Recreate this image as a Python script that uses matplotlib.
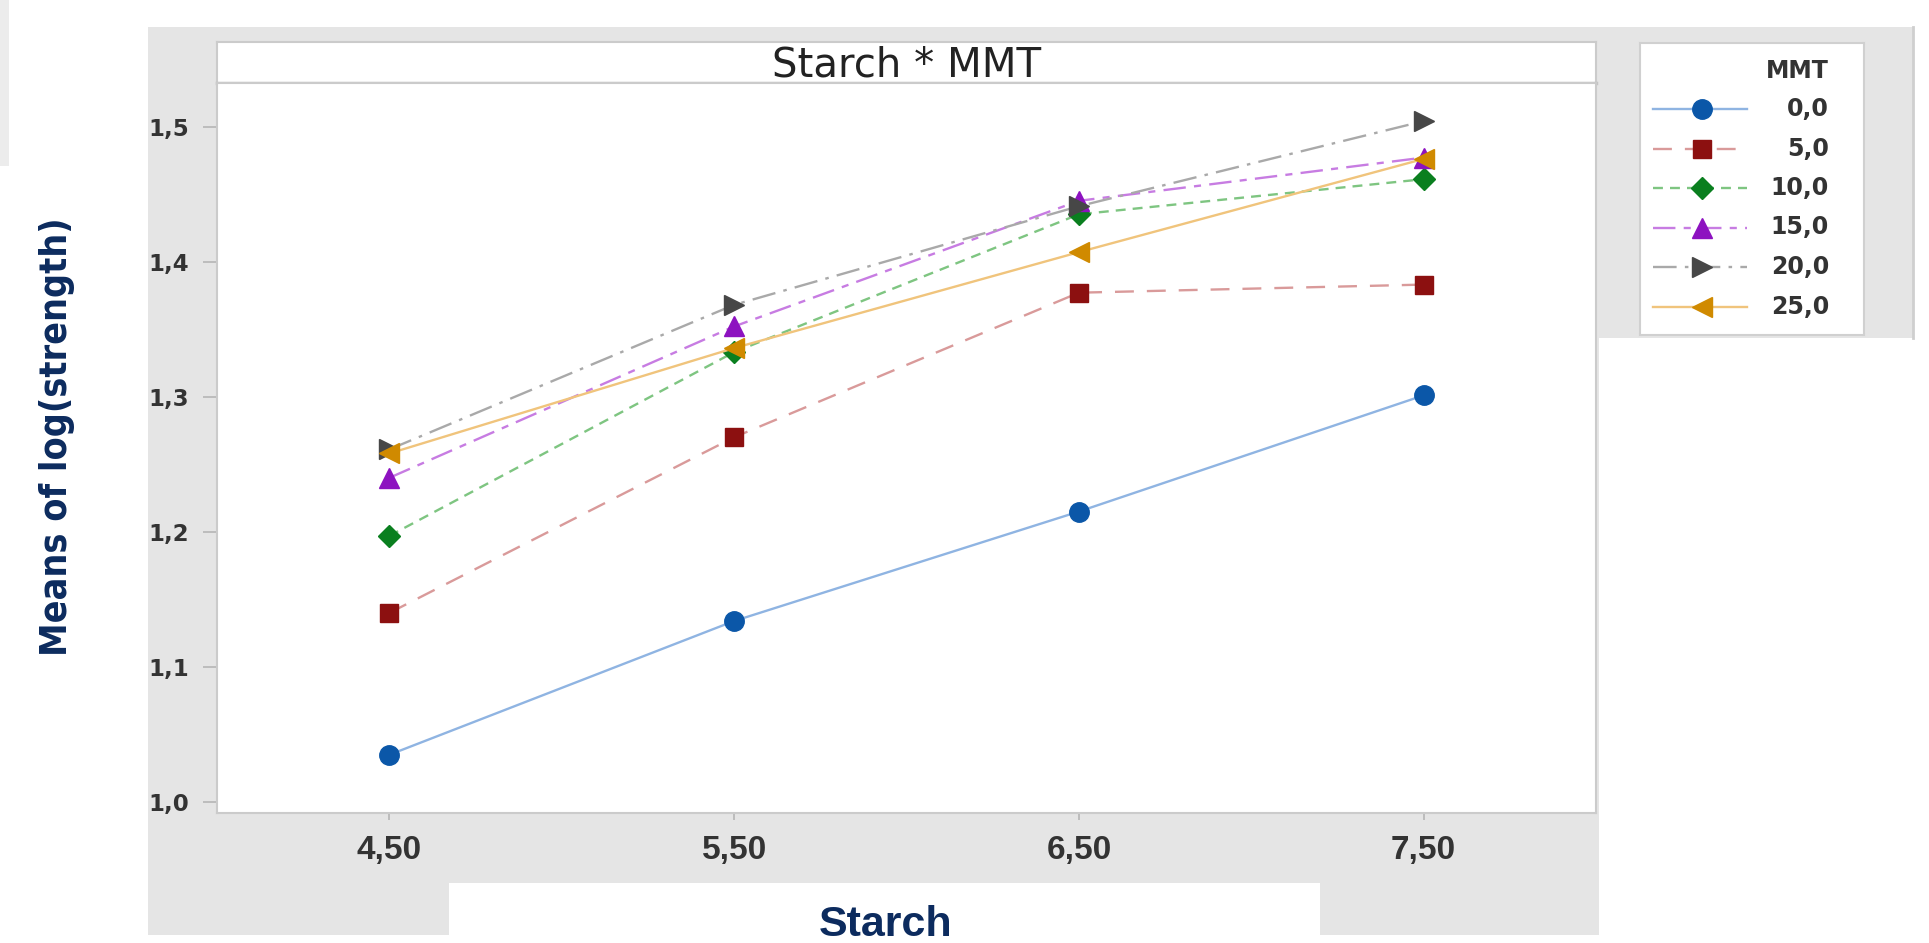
"""Interaction plot of log(strength) means, Starch * MMT."""

import matplotlib
matplotlib.use("Agg")
import matplotlib.pyplot as plt
from matplotlib import font_manager
from matplotlib.font_manager import FontProperties
from matplotlib.patches import Rectangle

# ---- data ----
starch = [4.5, 5.5, 6.5, 7.5]
starch_labels = ["4,50", "5,50", "6,50", "7,50"]

mmt_labels = ["0,0", "5,0", "10,0", "15,0", "20,0", "25,0"]
mmt_0 = [1.035, 1.134, 1.215, 1.301]
mmt_5 = [1.140, 1.270, 1.377, 1.383]
mmt_10 = [1.197, 1.333, 1.435, 1.461]
mmt_15 = [1.240, 1.352, 1.445, 1.477]
mmt_20 = [1.261, 1.368, 1.441, 1.504]
mmt_25 = [1.258, 1.336, 1.407, 1.476]
means = [mmt_0, mmt_5, mmt_10, mmt_15, mmt_20, mmt_25]

y_ticks = [1.0, 1.1, 1.2, 1.3, 1.4, 1.5]
y_tick_labels = ["1,0", "1,1", "1,2", "1,3", "1,4", "1,5"]

# one style per MMT level: line colour, marker colour, marker, dashes
styles = [
    dict(color="#8fb4e2", mfc="#0b57a8", marker="o", ms=14, dashes=None),
    dict(color="#d99a9a", mfc="#8c1010", marker="s", ms=12.5, dashes=(8, 5.5)),
    dict(color="#7ec581", mfc="#0a7f1f", marker="D", ms=11.5, dashes=(4.2, 3)),
    dict(color="#c77ce2", mfc="#8d12c0", marker="^", ms=15, dashes=(9.5, 3.5, 3, 3.5)),
    dict(color="#a9a9a9", mfc="#474747", marker=">", ms=15, dashes=(10, 3.5, 1.5, 3.5)),
    dict(color="#f0c47c", mfc="#d08a00", marker="<", ms=15, dashes=None),
]

W, H = 1929, 943
navy = "#0c2b5e"
panel_gray = "#e5e5e5"


def fx(px):
    return px / W


def fy(py):
    return 1 - py / H


def box(x0, y0, x1, y1):
    # figure-fraction rect from pixel corners (top-left origin)
    return [fx(x0), fy(y1), fx(x1) - fx(x0), fy(y0) - fy(y1)]


# the y label is set in a narrow face in the original; use one if present
ylab_font = dict(family="DejaVu Sans", fontsize=22)
for fam, size in [("Liberation Sans Narrow", 31), ("DejaVu Sans", 27)]:
    fp = FontProperties(family=fam, weight="bold", stretch="condensed")
    try:
        path = font_manager.findfont(fp, fallback_to_default=False)
    except ValueError:
        continue
    if "Narrow" in path or "Condensed" in path:
        ylab_font = dict(family=fam, fontstretch="condensed", fontsize=size)
        break

fig = plt.figure(figsize=(W / 100, H / 100), dpi=100)

# background panels
for (x0, y0, x1, y1), c in [((148, 27, 1599, 935), panel_gray),
                            ((1599, 27, 1913, 338), panel_gray),
                            ((449, 883, 1320, 943), "white"),
                            ((0, 0, 9, 166), "#ececec")]:
    l, b, w, h = box(x0, y0, x1, y1)
    fig.patches.append(Rectangle((l, b), w, h, transform=fig.transFigure,
                                 facecolor=c, edgecolor="none", zorder=-10))
fig.add_artist(plt.Line2D([fx(1913), fx(1913)], [fy(27), fy(338)],
                          transform=fig.transFigure, color="#cfcfcf", lw=2,
                          zorder=-5))

# title strip
tax = fig.add_axes(box(217, 42, 1596, 83))
tax.set_xticks([])
tax.set_yticks([])
for s in tax.spines.values():
    s.set_color("#cbcbcb")
    s.set_linewidth(1.5)
tax.spines["bottom"].set_linewidth(2.5)
tax.spines["bottom"].set_color("#c4c4c4")
tax.text(0.5, 0.42, "Starch * MMT", ha="center", va="center",
         fontsize=29, color="#222222", family="DejaVu Sans",
         transform=tax.transAxes)

# main axes
ax = fig.add_axes(box(217, 83, 1596, 813))
for vals, label, st in zip(means, mmt_labels, styles):
    line, = ax.plot(starch, vals, color=st["color"], lw=1.7,
                    marker=st["marker"], ms=st["ms"], mfc=st["mfc"],
                    mec=st["mfc"], label=label)
    if st["dashes"]:
        line.set_dashes(st["dashes"])

ax.set_xlim(4.0, 8.0)
ax.set_ylim(0.9919, 1.5322)
ax.set_xticks(starch)
ax.set_xticklabels(starch_labels, family="Liberation Sans", fontweight="bold",
                   fontsize=24, color="#333333")
ax.set_yticks(y_ticks)
ax.set_yticklabels(y_tick_labels, family="DejaVu Sans", fontweight="bold",
                   fontsize=16.5, color="#333333")
ax.tick_params(axis="x", length=5, width=1.2, color="#b5b5b5", pad=11)
ax.tick_params(axis="y", length=10, width=1.2, color="#b5b5b5", pad=10)
for s in ax.spines.values():
    s.set_color("#cbcbcb")
    s.set_linewidth(1.5)

fig.text(fx(57), fy(437), "Means of log(strength)", rotation=90,
         ha="center", va="center", fontweight="bold", color=navy, **ylab_font)
fig.text(fx(886), fy(936), "Starch", ha="center", va="baseline",
         fontsize=31, fontweight="bold", color=navy, family="Liberation Sans")

# legend panel, drawn by hand so labels sit right-aligned as in Minitab
lax = fig.add_axes(box(1640, 43, 1864, 335))
lax.set_xlim(0, 224)
lax.set_ylim(292, 0)
lax.set_xticks([])
lax.set_yticks([])
for s in lax.spines.values():
    s.set_color("#d0d0d0")
    s.set_linewidth(1.5)
lax.text(189, 28, "MMT", ha="right", va="center", fontsize=17,
         fontweight="bold", color="#333333")
for i, (label, st) in enumerate(zip(mmt_labels, styles)):
    yy = 66 + i * 39.5
    hl, = lax.plot([13, 107], [yy, yy], color=st["color"], lw=1.7)
    if st["dashes"]:
        hl.set_dashes(st["dashes"])
    lax.plot([62], [yy], marker=st["marker"], ms=st["ms"], mfc=st["mfc"],
             mec=st["mfc"], ls="none")
    lax.text(189, yy, label, ha="right", va="center", fontsize=17,
             fontweight="bold", color="#333333")

fig.savefig("out.png", dpi=100)
